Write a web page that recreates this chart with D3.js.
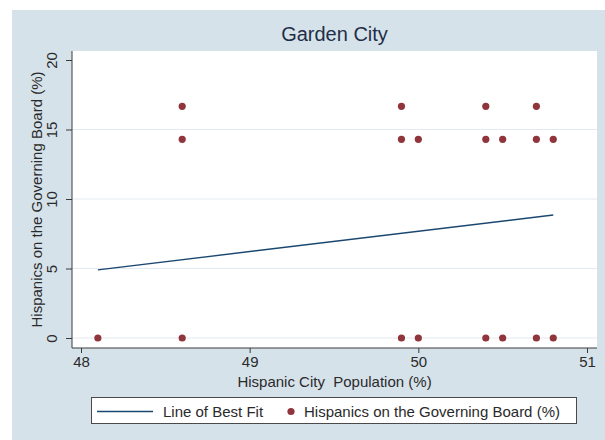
<!DOCTYPE html>
<html>
<head>
<meta charset="utf-8">
<script src="https://cdn.jsdelivr.net/npm/d3@7"></script>
<style>
  html, body { margin: 0; padding: 0; background: #ffffff; }
  svg { display: block; font-family: "Liberation Sans", Arial, sans-serif; }
</style>
</head>
<body>
<svg id="chart" width="605" height="440"></svg>
<script>
// Hispanic share of the city population vs. Hispanic share of the governing board
const cityPopPct = [48.1, 48.6, 48.6, 48.6, 49.9, 49.9, 49.9, 50.0, 50.0,
                    50.4, 50.4, 50.4, 50.5, 50.5, 50.7, 50.7, 50.7, 50.8, 50.8];
const boardPct   = [0, 0, 14.29, 16.67, 0, 14.29, 16.67, 0, 14.29,
                    0, 14.29, 16.67, 0, 14.29, 0, 14.29, 16.67, 0, 14.29];

// Fitted line evaluated at the ends of the observed range
const fitX = [48.1, 50.8];
const fitY = [4.9, 8.85];

const xTicks = [48, 49, 50, 51];
const yTicks = [0, 5, 10, 15, 20];

const chartTitle = "Garden City";
const xTitle = "Hispanic City  Population (%)";
const yTitle = "Hispanics on the Governing Board (%)";
const legendLabels = ["Line of Best Fit", "Hispanics on the Governing Board (%)"];

const svg = d3.select("#chart");

const plot = { left: 72, right: 597, top: 51, bottom: 348 };

const x = d3.scaleLinear().domain([48, 51]).range([81, 587]);
const y = d3.scaleLinear().domain([0, 20]).range([338, 60]);

const colors = {
  bg: "#d6e2ea",
  grid: "#e2eaef",
  axis: "#3a3a3a",
  text: "#2a2a2a",
  title: "#1f2e48",
  fit: "#1a476f",
  marker: "#90353b"
};

// graph region
svg.append("rect")
  .attr("x", 12).attr("y", 10)
  .attr("width", 605 - 12).attr("height", 440 - 10)
  .attr("fill", colors.bg);

// plot region
svg.append("rect")
  .attr("x", plot.left).attr("y", plot.top)
  .attr("width", plot.right - plot.left).attr("height", plot.bottom - plot.top)
  .attr("fill", "#ffffff");

// horizontal gridlines
svg.append("g")
  .selectAll("line")
  .data(yTicks.filter(d => d < 20))
  .join("line")
  .attr("x1", plot.left).attr("x2", plot.right)
  .attr("y1", d => y(d)).attr("y2", d => y(d))
  .attr("stroke", colors.grid)
  .attr("stroke-width", 1);

// title
svg.append("text")
  .attr("x", (plot.left + plot.right) / 2)
  .attr("y", 41)
  .attr("text-anchor", "middle")
  .attr("font-size", 20)
  .attr("fill", colors.title)
  .text(chartTitle);

// x axis
const xAxis = svg.append("g")
  .attr("transform", `translate(0,${plot.bottom})`)
  .call(d3.axisBottom(x).tickValues(xTicks).tickFormat(d3.format("d")).tickSize(5).tickPadding(3));
xAxis.select(".domain").remove();
xAxis.selectAll(".tick line").attr("stroke", colors.axis);
xAxis.selectAll(".tick text").attr("font-size", 15).attr("fill", colors.text)
  .attr("font-family", "Liberation Sans, Arial, sans-serif");

// y axis (labels rotated, as read bottom to top)
const yAxis = svg.append("g")
  .attr("transform", `translate(${plot.left},0)`)
  .call(d3.axisLeft(y).tickValues(yTicks).tickFormat(d3.format("d")).tickSize(6).tickPadding(4));
yAxis.select(".domain").remove();
yAxis.selectAll(".tick line").attr("stroke", colors.axis);
yAxis.selectAll(".tick text")
  .attr("font-size", 15).attr("fill", colors.text)
  .attr("font-family", "Liberation Sans, Arial, sans-serif")
  .attr("x", null).attr("dy", null)
  .attr("text-anchor", "middle")
  .attr("transform", "translate(-15,0) rotate(-90)");

// axis lines
svg.append("line")
  .attr("x1", plot.left).attr("x2", plot.right)
  .attr("y1", plot.bottom).attr("y2", plot.bottom)
  .attr("stroke", colors.axis).attr("stroke-width", 1);
svg.append("line")
  .attr("x1", plot.left).attr("x2", plot.left)
  .attr("y1", plot.top).attr("y2", plot.bottom)
  .attr("stroke", colors.axis).attr("stroke-width", 1);

// axis titles
svg.append("text")
  .attr("x", (plot.left + plot.right) / 2)
  .attr("y", 387)
  .attr("text-anchor", "middle")
  .attr("font-size", 15)
  .attr("fill", colors.text)
  .attr("xml:space", "preserve")
  .style("white-space", "pre")
  .text(xTitle);

svg.append("text")
  .attr("transform", `translate(42,${(plot.top + plot.bottom) / 2}) rotate(-90)`)
  .attr("text-anchor", "middle")
  .attr("font-size", 15)
  .attr("fill", colors.text)
  .text(yTitle);

// line of best fit
svg.append("path")
  .datum(fitX.map((d, i) => [d, fitY[i]]))
  .attr("d", d3.line().x(d => x(d[0])).y(d => y(d[1])))
  .attr("fill", "none")
  .attr("stroke", colors.fit)
  .attr("stroke-width", 1.4);

// scatter markers
svg.append("g")
  .selectAll("circle")
  .data(cityPopPct.map((d, i) => [d, boardPct[i]]))
  .join("circle")
  .attr("cx", d => x(d[0]))
  .attr("cy", d => y(d[1]))
  .attr("r", 3.6)
  .attr("fill", colors.marker);

// legend
const legend = svg.append("g");
legend.append("rect")
  .attr("x", 91.5).attr("y", 397.5)
  .attr("width", 485).attr("height", 26)
  .attr("fill", "#ffffff")
  .attr("stroke", "#4a4a4a").attr("stroke-width", 1);
legend.append("line")
  .attr("x1", 97).attr("x2", 153)
  .attr("y1", 411.5).attr("y2", 411.5)
  .attr("stroke", colors.fit).attr("stroke-width", 1.4);
legend.append("text")
  .attr("x", 163).attr("y", 417)
  .attr("font-size", 15).attr("fill", colors.text)
  .text(legendLabels[0]);
legend.append("circle")
  .attr("cx", 291).attr("cy", 411.5).attr("r", 3.6)
  .attr("fill", colors.marker);
legend.append("text")
  .attr("x", 304).attr("y", 417)
  .attr("font-size", 15).attr("fill", colors.text)
  .text(legendLabels[1]);
</script>
</body>
</html>
